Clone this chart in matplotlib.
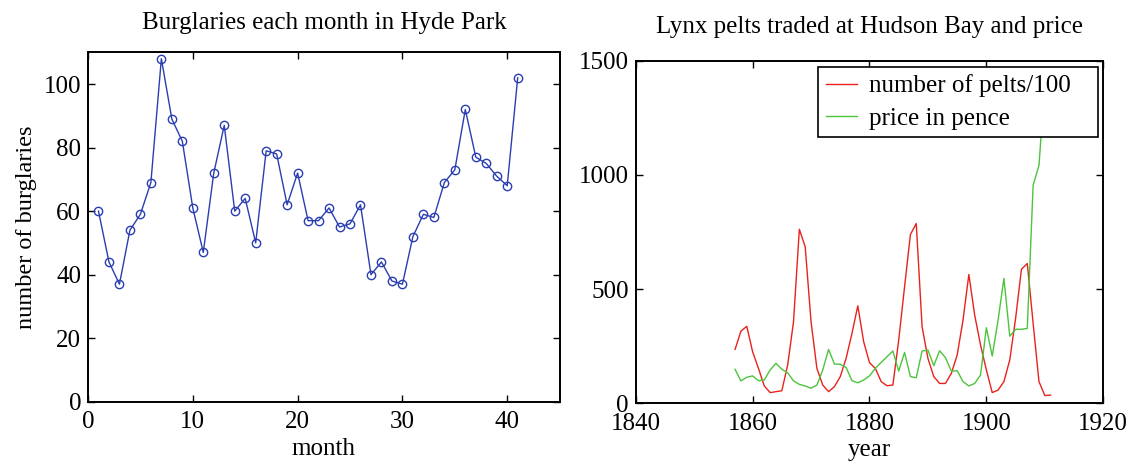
import matplotlib
matplotlib.use('Agg')
import matplotlib.pyplot as plt

# burglaries per month, Hyde Park
months = list(range(1, 42))
burglaries = [60, 44, 37, 54, 59, 69, 108, 89, 82, 61, 47, 72, 87, 60, 64, 50,
              79, 78, 62, 72, 57, 57, 61, 55, 56, 62, 40, 44, 38, 37, 52, 59,
              58, 69, 73, 92, 77, 75, 71, 68, 102]

# lynx pelts (/100) and price, Hudson Bay
years = list(range(1857, 1912))
pelts = [236, 316, 337, 226, 153, 76, 47, 51, 55, 168, 357, 762, 685, 357, 153,
         80, 51, 73, 117, 197, 306, 427, 270, 178, 153, 95, 77, 80, 277, 510,
         739, 787, 335, 197, 117, 87, 87, 131, 211, 364, 564, 386, 255, 146,
         47, 58, 95, 190, 372, 587, 612, 350, 95, 34, 36]
price_years = list(range(1857, 1911))
price = [149, 98, 114, 120, 99, 102, 146, 175, 149, 134, 98, 83, 76, 66, 80,
         146, 236, 172, 171, 157, 99, 90, 102, 120, 153, 179, 204, 229, 141,
         223, 117, 112, 229, 233, 165, 230, 200, 141, 143, 95, 76, 87, 124,
         331, 207, 364, 547, 294, 324, 324, 328, 955, 1042, 1400]

plt.rcParams['font.family'] = ['Liberation Serif', 'DejaVu Serif']
plt.rcParams['font.size'] = 18

fig = plt.figure(figsize=(11.34, 4.63), dpi=100)


def style(ax):
    ax.tick_params(direction='in', top=True, right=True, length=5, width=1,
                   labelsize=18)
    ax.tick_params(axis='x', pad=7)
    ax.tick_params(axis='y', pad=5)
    for s in ax.spines.values():
        s.set_linewidth(1.4)


ax1 = fig.add_axes([0.0776, 0.1324, 0.4159, 0.7546])
ax1.plot(months, burglaries, '-o', color='#2a3eb1', lw=1, ms=6,
         mfc='none', mew=1)
ax1.set_xlim(0, 45)
ax1.set_ylim(0, 110)
ax1.set_xticks([0, 10, 20, 30, 40])
ax1.set_yticks([0, 20, 40, 60, 80, 100])
ax1.set_title('Burglaries each month in Hyde Park', fontsize=18, pad=17)
ax1.set_xlabel('month', fontsize=18, labelpad=3)
ax1.set_ylabel('number of burglaries', fontsize=17.5, labelpad=5)
style(ax1)

ax2 = fig.add_axes([0.5606, 0.1289, 0.4123, 0.7400])
ax2.plot(years, pelts, color='#e8221c', lw=1, label='number of pelts/100')
ax2.plot(price_years, price, color='#4cc43c', lw=1, label='price in pence')
ax2.set_xlim(1840, 1920)
ax2.set_ylim(0, 1500)
ax2.set_xticks([1840, 1860, 1880, 1900, 1920])
ax2.set_yticks([0, 500, 1000, 1500])
ax2.set_title('Lynx pelts traded at Hudson Bay and price', fontsize=18, pad=20)
ax2.set_xlabel('year', fontsize=18, labelpad=3)
style(ax2)
leg = ax2.legend(loc='upper left', bbox_to_anchor=(0.390, 0.0, 0.5988, 0.9816),
                 mode='expand', borderaxespad=0, fancybox=False, framealpha=1,
                 edgecolor='black', fontsize=18, handlelength=1.24,
                 handletextpad=0.48, borderpad=0.3, labelspacing=0.39)
leg.get_frame().set_linewidth(1.2)

fig.savefig('out.png', dpi=100)
